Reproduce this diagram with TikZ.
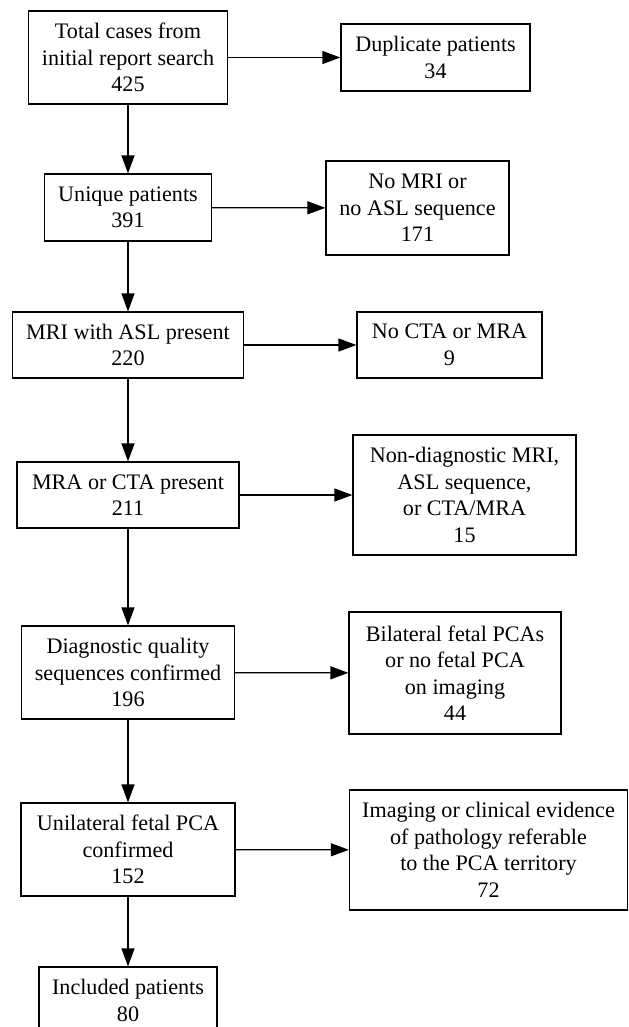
\documentclass[tikz,border=0pt]{standalone}
\usepackage{fontspec}
\setmainfont{Liberation Serif}
\usepackage{tikz}
\usetikzlibrary{arrows.meta}

\begin{document}
\begin{tikzpicture}[
    box/.style={draw, line width=0.7pt, align=center, inner sep=0pt,
        font=\fontsize{12.6}{15.1}\selectfont},
    every path/.style={line width=0.7pt},
    >={Triangle[length=0.36cm, width=0.26cm]}]
    \useasboundingbox (0,0) rectangle (12.58,-20.54);

    \node(total)[box, minimum width=3.98cm, minimum height=1.86cm] at (2.56,-1.15) {Total cases from\\initial report search\\425};
    \node(unique)[box, minimum width=3.34cm, minimum height=1.34cm] at (2.56,-4.15) {Unique patients\\391};
    \node(asl)[box, minimum width=4.62cm, minimum height=1.32cm] at (2.56,-6.90) {MRI with ASL present\\220};
    \node(angio)[box, minimum width=4.44cm, minimum height=1.32cm] at (2.56,-9.90) {MRA or CTA present\\211};
    \node(quality)[box, minimum width=4.26cm, minimum height=1.86cm] at (2.56,-13.45) {Diagnostic quality\\sequences confirmed\\196};
    \node(fetal)[box, minimum width=4.28cm, minimum height=1.86cm] at (2.56,-16.99) {Unilateral fetal PCA\\confirmed\\152};
    \node(incl)[box, minimum width=3.56cm, minimum height=1.34cm] at (2.56,-20.01) {Included patients\\80};

    \node(dup)[box, minimum width=3.78cm, minimum height=1.34cm] at (8.71,-1.15) {Duplicate patients\\34};
    \node(nomri)[box, minimum width=3.66cm, minimum height=1.88cm] at (8.35,-4.16) {No MRI or\\no ASL sequence\\171};
    \node(nocta)[box, minimum width=3.70cm, minimum height=1.32cm] at (8.99,-6.90) {No CTA or MRA\\9};
    \node(nondiag)[box, minimum width=4.46cm, minimum height=2.40cm] at (9.29,-9.90) {Non-diagnostic MRI,\\ASL sequence,\\or CTA/MRA\\15};
    \node(bilat)[box, minimum width=4.24cm, minimum height=2.44cm] at (9.10,-13.46) {Bilateral fetal PCAs\\or no fetal PCA\\on imaging\\44};
    \node(path)[box, minimum width=5.56cm, minimum height=2.40cm] at (9.77,-17.00) {Imaging or clinical evidence\\of pathology referable\\to the PCA territory\\72};

    \draw[->] (total) -- (unique);
    \draw[->] (unique) -- (asl);
    \draw[->] (asl) -- (angio);
    \draw[->] (angio) -- (quality);
    \draw[->] (quality) -- (fetal);
    \draw[->] (fetal) -- (incl);

    \draw[->] (total) -- (dup);
    \draw[->] (unique) -- (nomri);
    \draw[->] (asl) -- (nocta);
    \draw[->] (angio) -- (nondiag);
    \draw[->] (quality) -- (bilat);
    \draw[->] (fetal) -- (path);

    \end{tikzpicture}
\end{document}
